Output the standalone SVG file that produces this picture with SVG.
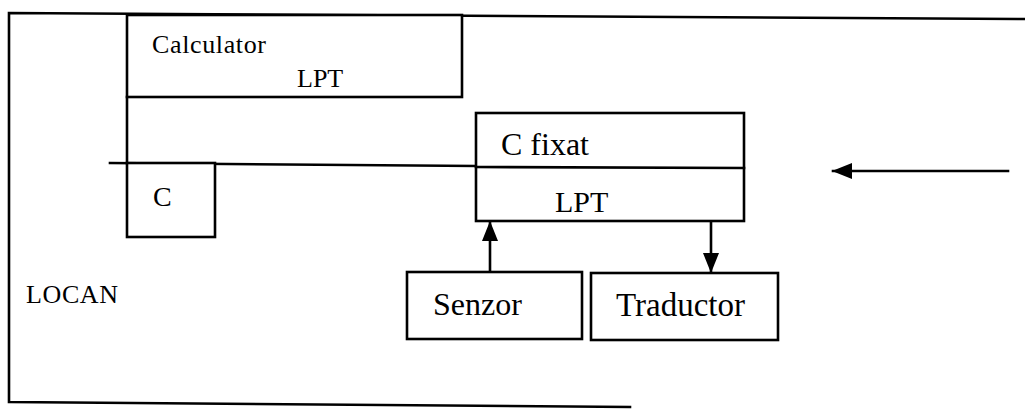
<svg xmlns="http://www.w3.org/2000/svg" width="1025" height="410" viewBox="0 0 1025 410">
<style>
.ln{fill:none;stroke:#000;stroke-width:2.6;stroke-linecap:square}
.bx{fill:#fff;stroke:#000;stroke-width:2.6}
.t{font-family:"Liberation Serif","Times New Roman",serif;fill:#000}
</style>
<defs>
<marker id="ah" viewBox="0 0 20 16" refX="19" refY="8" markerWidth="20" markerHeight="16" markerUnits="userSpaceOnUse" orient="auto">
<path d="M0,0 L20,8 L0,16 Z" fill="#000"/>
</marker>
</defs>
<rect width="1025" height="410" fill="#fff"/>
<g id="frame">
<path class="ln" d="M1025,19 L9,13 L9,402 L630,407"/>
<text class="t" x="26" y="303" font-size="26" textLength="92">LOCAN</text>
</g>
<g id="connectors">
<path class="ln" d="M127,97 L127,163"/>
<path class="ln" d="M110,163 L476,166"/>
<path class="ln" d="M490,272 L490,222" marker-end="url(#ah)"/>
<path class="ln" d="M711,221 L711,272" marker-end="url(#ah)"/>
<path class="ln" d="M1008,171 L833,171" marker-end="url(#ah)"/>
</g>
<g id="calculator">
<rect class="bx" x="127" y="15" width="335" height="82"/>
<text class="t" x="152" y="53" font-size="26" textLength="114">Calculator</text>
<text class="t" x="297" y="87" font-size="26">LPT</text>
</g>
<g id="c">
<rect class="bx" x="127" y="163" width="88" height="74"/>
<text class="t" x="153" y="206" font-size="28">C</text>
</g>
<g id="cfixat">
<rect class="bx" x="476" y="113" width="268" height="108"/>
<line class="ln" x1="476" y1="167" x2="744" y2="168"/>
<text class="t" x="501" y="155" font-size="32">C fixat</text>
<text class="t" x="555" y="212" font-size="30">LPT</text>
</g>
<g id="senzor">
<rect class="bx" x="407" y="272" width="175" height="67"/>
<text class="t" x="433" y="315" font-size="32">Senzor</text>
</g>
<g id="traductor">
<rect class="bx" x="591" y="273" width="187" height="67"/>
<text class="t" x="616" y="316" font-size="33">Traductor</text>
</g>
</svg>
